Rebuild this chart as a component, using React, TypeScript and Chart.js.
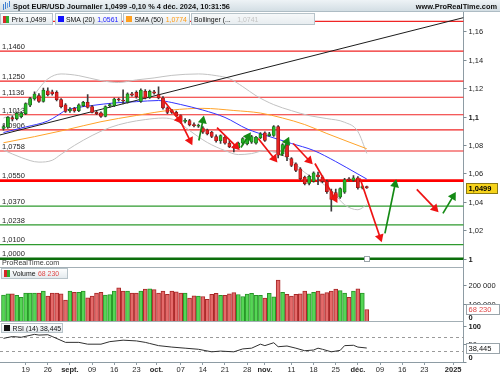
import React, { useEffect, useRef } from 'react';
import { Chart, registerables } from 'chart.js';

Chart.register(...registerables);

const FONT = "'Liberation Sans', Arial, Helvetica, sans-serif";

// ---------------- DATA ----------------
// trading-day index: 0 = 12 août 2024 ... 82 = 4 déc. 2024
const titleText = 'Spot EUR/USD Journalier 1,0499 -0,10 % 4 déc. 2024, 10:31:56';

const openP = [1.0916,1.0925,1.0993,1.0985,1.1000,1.1021,1.1080,1.1124,1.1147,1.1107,
1.1182,1.1175,1.1171,1.1119,1.1082,1.1040,1.1058,1.1042,1.1077,1.1100,
1.1070,1.1030,1.1026,1.1002,1.1075,1.1077,1.1124,1.1115,1.1102,1.1160,
1.1171,1.1107,1.1178,1.1135,1.1175,1.1154,1.1131,1.1061,1.1042,1.1030,
1.1007,1.0966,1.0972,1.0942,1.0932,1.0921,1.0907,1.0890,1.0860,1.0830,
1.0855,1.0813,1.0789,1.0780,1.0813,1.0808,1.0820,1.0813,1.0851,1.0886,
1.0866,1.0867,1.0930,1.0738,1.0800,1.0705,1.0668,1.0633,1.0574,1.0530,
1.0545,1.0590,1.0575,1.0545,1.0472,1.0465,1.0434,1.0469,1.0562,1.0551,
1.0570,1.0500,1.0508];
const highP = [1.0942,1.1000,1.1005,1.1032,1.1036,1.1097,1.1136,1.1174,1.1162,1.1201,
1.1202,1.1187,1.1181,1.1126,1.1092,1.1063,1.1066,1.1089,1.1108,1.1154,
1.1079,1.1041,1.1033,1.1076,1.1091,1.1131,1.1131,1.1189,1.1168,1.1171,
1.1181,1.1196,1.1190,1.1186,1.1185,1.1209,1.1141,1.1069,1.1051,1.1039,
1.1013,1.0986,1.0981,1.0956,1.0948,1.0929,1.0913,1.0896,1.0871,1.0872,
1.0866,1.0832,1.0796,1.0820,1.0852,1.0850,1.0868,1.0862,1.0888,1.0893,
1.0890,1.0937,1.0937,1.0810,1.0808,1.0712,1.0675,1.0641,1.0582,1.0588,
1.0612,1.0610,1.0583,1.0553,1.0490,1.0490,1.0499,1.0566,1.0572,1.0586,
1.0579,1.0515,1.0512];
const lowP = [1.0905,1.0918,1.0970,1.0976,1.0990,1.1014,1.1070,1.1115,1.1100,1.1101,
1.1145,1.1150,1.1110,1.1061,1.1030,1.1029,1.1032,1.1035,1.1069,1.1060,
1.1025,1.1014,1.0995,1.0997,1.1064,1.1070,1.1109,1.1089,1.1094,1.1144,
1.1130,1.1099,1.1124,1.1127,1.1157,1.1125,1.1052,1.1021,1.1022,1.0999,
1.0952,1.0955,1.0935,1.0928,1.0924,1.0882,1.0871,1.0852,1.0820,1.0812,
1.0806,1.0782,1.0752,1.0773,1.0801,1.0800,1.0812,1.0806,1.0845,1.0825,
1.0860,1.0860,1.0710,1.0726,1.0690,1.0648,1.0613,1.0554,1.0519,1.0520,
1.0538,1.0522,1.0535,1.0460,1.0335,1.0420,1.0425,1.0460,1.0548,1.0545,
1.0490,1.0492,1.0495];
const closeP = [1.0930,1.0995,1.0982,1.1023,1.1025,1.1091,1.1126,1.1159,1.1107,1.1187,
1.1154,1.1160,1.1119,1.1070,1.1037,1.1052,1.1040,1.1082,1.1100,1.1065,
1.1030,1.1021,1.1002,1.1070,1.1085,1.1124,1.1117,1.1110,1.1160,1.1150,
1.1140,1.1187,1.1131,1.1178,1.1165,1.1131,1.1061,1.1030,1.1030,1.1007,
1.0960,1.0972,1.0942,1.0937,1.0938,1.0890,1.0879,1.0860,1.0830,1.0867,
1.0813,1.0789,1.0780,1.0813,1.0846,1.0843,1.0860,1.0855,1.0879,1.0832,
1.0879,1.0930,1.0728,1.0803,1.0716,1.0656,1.0621,1.0563,1.0528,1.0580,
1.0605,1.0575,1.0545,1.0472,1.0418,1.0430,1.0493,1.0556,1.0556,1.0570,
1.0500,1.0508,1.0499];

const volume = [147000,153000,153000,145000,134000,158000,158000,158000,158000,168000,
141000,158000,158000,153000,119000,168000,162000,162000,169000,132000,
141000,158000,162000,147000,149000,168000,186000,168000,169000,158000,
158000,169000,179000,181000,177000,158000,169000,151000,169000,164000,
158000,158000,130000,143000,141000,139000,124000,151000,156000,145000,
145000,154000,160000,150000,139000,152000,156000,145000,145000,130000,
156000,137000,228000,162000,151000,141000,151000,153000,168000,153000,
162000,168000,153000,160000,168000,179000,171000,158000,134000,168000,
181000,158000,68230];

// [index, value]
const sma20 = [[0,1.0888],[5,1.0927],[10,1.0969],[12,1.1004],[14,1.1043],[16,1.1060],[20,1.1078],[25,1.1096],[30,1.1105],[35,1.1113],[38,1.1099],[40,1.1085],[45,1.1046],[50,1.0994],[55,1.0913],[60,1.0860],[65,1.0811],[70,1.0762],[75,1.0684],[80,1.0596],[82,1.0561]];
const sma50 = [[0,1.0816],[7,1.0859],[14,1.0906],[22,1.0964],[30,1.1008],[38,1.1046],[45,1.1058],[52,1.1043],[58,1.1025],[63,1.0990],[68,1.0944],[73,1.0881],[78,1.0821],[82,1.0774]];
const bbUpper = [[0,1.0990],[3,1.1030],[6,1.1112],[8,1.1197],[10,1.1265],[13,1.1300],[17,1.1288],[22,1.1253],[26,1.1240],[30,1.1258],[34,1.1272],[38,1.1290],[44,1.1300],[48,1.1288],[51,1.1267],[54,1.1211],[57,1.1147],[61,1.1084],[65,1.1042],[69,1.1007],[73,1.0986],[77,1.0960],[80,1.0895],[82,1.0741]];
const bbLower = [[0,1.0765],[4,1.0712],[8,1.0680],[11,1.0693],[13,1.0735],[16,1.0797],[20,1.0867],[24,1.0923],[28,1.0958],[32,1.0979],[36,1.0990],[39,1.0972],[42,1.0902],[46,1.0818],[50,1.0761],[53,1.0733],[56,1.0740],[59,1.0761],[62,1.0740],[65,1.0691],[68,1.0607],[71,1.0551],[74,1.0481],[77,1.0380],[80,1.0345],[82,1.0381]];
const trendLine = [[-0.79,1.0871],[103.84,1.1696]];

const rsi = [[0,65],[2,70],[4,68],[7,76],[8,74],[10,75],[11,70],[14,54],[17,54],[19,49],[22,49],[24,56],[27,60],[30,58],[32,54],[33,51],[35,45],[38,41],[41,38],[44,35],[47,28],[49,30],[52,28],[54,36],[56,38],[58,49],[59,45],[61,53],[62,42],[64,44],[66,38],[68,31],[70,33],[71,38],[72,35],[74,28],[76,32],[77,45],[79,46],[80,41],[82,38.445]];

const levelValues = [1.1669, 1.1460, 1.1250, 1.1136, 1.1013, 1.0906, 1.0758, 1.0550, 1.0370, 1.0238, 1.0100, 1.0000];
const levelLabels = ['', '1,1460', '1,1250', '1,1136', '1,1013', '1,0906', '1,0758', '1,0550', '1,0370', '1,0238', '1,0100', '1,0000'];
const levelKinds = ['res', 'res', 'res', 'res', 'res', 'res', 'res', 'pivot', 'sup', 'sup', 'sup', 'floor'];

// arrows: [fromIndex, fromValue, toIndex, toValue]
const arrowsDown = [
  [36.2,1.1112,39.6,1.0979],[40.1,1.0958,42.1,1.0832],[48.2,1.0923,52.5,1.0790],
  [57.5,1.0846,61.1,1.0705],[65.4,1.0811,69.0,1.0691],[70.3,1.0670,74.8,1.0425],
  [80.5,1.0565,85.0,1.0151],[93.3,1.0488,97.4,1.0354]];
const arrowsUp = [
  [44.1,1.0832,45.0,1.0972],[53.6,1.0783,55.2,1.0860],[62.6,1.0726,64.0,1.0825],
  [86.1,1.0179,88.4,1.0523],[99.2,1.0319,101.5,1.0439]];

const xMin = -0.79, xMax = 103.84;
const xTickIdx = [5, 10, 15, 20, 25, 30, 34.5, 40, 45, 50, 55, 59, 65, 70, 75, 80, 85, 90, 95, 101.5];
const xTickLabels = ['19', '26', 'sept.', '09', '16', '23', 'oct.', '07', '14', '21', '28', 'nov.', '11', '18', '25', 'déc.', '09', '16', '23', '2025'];

const priceTicks = [1, 1.02, 1.04, 1.06, 1.08, 1.1, 1.12, 1.14, 1.16];
const priceTickLabels = ['1', '1,02', '1,04', '1,06', '1,08', '1,1', '1,12', '1,14', '1,16'];
const priceRange = [0.99423, 1.17356];
const volTicks = [0, 100000, 200000];
const volTickLabels = ['0', '100 000', '200 000'];
const volRange = [0, 300000];
const rsiTicks = [0, 50, 100];
const rsiTickLabels = ['0', '50', '100'];
const rsiRange = [0, 110];
const rsiBands = [30, 70];

// ---------------- helpers ----------------
const AXIS_W = 36.5;
const fr = (v: number, d: number) => v.toFixed(d).replace('.', ',');
const grp = (v: number) => Math.round(v).toString().replace(/\B(?=(\d{3})+(?!\d))/g, ' ');
const idx = closeP.map((_, i) => i);
const isUp = (i: number) => closeP[i] >= openP[i];
const pts = (arr: number[][]) => arr.map(([x, y]) => ({ x, y }));
const last = (arr: number[][]) => arr[arr.length - 1][1];

const LEVEL_STYLE: any = {
  res: { color: '#f02525', width: 1.2 },
  pivot: { color: '#ff0000', width: 2.6 },
  sup: { color: '#2e9a2e', width: 1.2 },
  floor: { color: '#0b6e0b', width: 2.6 },
};

function yLabels(ticks: number[], labels: string[], boldFn: (v: number) => boolean) {
  return {
    id: 'yLabels',
    afterDraw(chart: any) {
      const { ctx, chartArea: ca, scales } = chart;
      const y = scales.y;
      ctx.save();
      ticks.forEach((t, k) => {
        const py = Math.round(y.getPixelForValue(t)) + 0.5;
        ctx.strokeStyle = '#7d8b93';
        ctx.lineWidth = 1;
        ctx.beginPath();
        ctx.moveTo(ca.right, py);
        ctx.lineTo(ca.right + 3, py);
        ctx.stroke();
        const ly = Math.min(Math.max(py, ca.top + 4.5), ca.bottom - 4.5);
        ctx.font = (boldFn(t) ? 'bold ' : '') + '7.5px ' + FONT;
        ctx.fillStyle = '#1a1a1a';
        ctx.textAlign = 'left';
        ctx.textBaseline = 'middle';
        ctx.fillText(labels[k], ca.right + 5, ly);
      });
      ctx.restore();
    },
  };
}

function valueBox(value: number, text: string, fill: string, stroke: string, color: string, bold: boolean, w: number) {
  return {
    id: 'valueBox',
    afterDraw(chart: any) {
      const { ctx, chartArea: ca, scales } = chart;
      const py = scales.y.getPixelForValue(value);
      const h = 10;
      const x0 = ca.right + 3;
      const top = Math.round(py - h / 2) + 0.5;
      ctx.save();
      ctx.fillStyle = fill;
      ctx.fillRect(x0, top, w, h);
      ctx.strokeStyle = stroke;
      ctx.lineWidth = 1;
      ctx.strokeRect(x0, top, w, h);
      ctx.font = (bold ? 'bold ' : '') + '7.5px ' + FONT;
      ctx.fillStyle = color;
      ctx.textAlign = 'left';
      ctx.textBaseline = 'middle';
      ctx.fillText(text, x0 + 2, top + h / 2 + 0.5);
      ctx.restore();
    },
  };
}

const levelsPlugin = {
  id: 'levels',
  beforeDatasetsDraw(chart: any) {
    const { ctx, chartArea: ca, scales } = chart;
    ctx.save();
    levelValues.forEach((v, k) => {
      const st = LEVEL_STYLE[levelKinds[k]];
      const py = scales.y.getPixelForValue(v);
      ctx.strokeStyle = st.color;
      ctx.lineWidth = st.width;
      ctx.beginPath();
      ctx.moveTo(ca.left, py);
      ctx.lineTo(ca.right, py);
      ctx.stroke();
      if (levelLabels[k]) {
        ctx.font = '7.5px ' + FONT;
        ctx.fillStyle = '#1e1e1e';
        ctx.textAlign = 'left';
        ctx.textBaseline = 'alphabetic';
        ctx.fillText(levelLabels[k], 2, py - st.width / 2 - 1.6);
      }
    });
    ctx.restore();
  },
  afterDraw(chart: any) {
    const { ctx, chartArea: ca, scales } = chart;
    const px = Math.round(scales.x.getPixelForValue(idx[idx.length - 1]));
    ctx.save();
    ctx.fillStyle = '#ffffff';
    ctx.strokeStyle = '#9aa4aa';
    ctx.lineWidth = 1;
    ctx.fillRect(px - 2.5, ca.bottom - 10.5, 5, 5);
    ctx.strokeRect(px - 2.5, ca.bottom - 10.5, 5, 5);
    ctx.restore();
  },
};

function arrowDs(a: number[], color: string) {
  return {
    type: 'line',
    data: [{ x: a[0], y: a[1] }, { x: a[2], y: a[3] }],
    borderColor: color,
    borderWidth: 1.7,
    pointRadius: [0, 5.2],
    pointHoverRadius: 0,
    pointStyle: 'triangle',
    pointBackgroundColor: color,
    pointBorderColor: color,
    pointBorderWidth: 0,
    rotation: (ctx: any) => {
      const ch = ctx.chart;
      const d = ctx.dataset.data;
      if (!ch.scales || !ch.scales.x || !ch.scales.y) return 0;
      const dx = ch.scales.x.getPixelForValue(d[1].x) - ch.scales.x.getPixelForValue(d[0].x);
      const dy = ch.scales.y.getPixelForValue(d[1].y) - ch.scales.y.getPixelForValue(d[0].y);
      return (Math.atan2(dx, -dy) * 180) / Math.PI;
    },
    order: 1,
  };
}

const baseY = (range: number[]) => ({
  position: 'right',
  min: range[0],
  max: range[1],
  ticks: { display: false },
  grid: { display: false },
  border: { display: true, color: '#8e9ca4' },
  afterFit: (s: any) => { s.width = AXIS_W; },
});

const hiddenX = { type: 'linear', min: xMin, max: xMax, display: false, offset: false };

const commonOpts = {
  animation: false,
  responsive: false,
  maintainAspectRatio: false,
  layout: { padding: 0, autoPadding: false },
  events: [],
  plugins: { legend: { display: false }, tooltip: { enabled: false }, title: { display: false } },
};

function priceConfig(): any {
  const lineDs = (arr: number[][], color: string, order: number, mono = true) => ({
    type: 'line', data: pts(arr), borderColor: color, borderWidth: 1, pointRadius: 0,
    cubicInterpolationMode: mono ? 'monotone' : 'default', order,
  });
  return {
    type: 'bar',
    data: {
      datasets: [
        lineDs(bbUpper, '#c2c2c2', 20),
        lineDs(bbLower, '#c2c2c2', 20),
        lineDs(sma50, '#ffa32a', 18),
        lineDs(sma20, '#3434ff', 17),
        lineDs(trendLine, '#1c1c1c', 16, false),
        {
          type: 'bar', data: idx.map((i) => ({ x: i, y: [lowP[i], highP[i]] })),
          backgroundColor: '#3c3c3c', barThickness: 1, grouped: false, order: 10,
        },
        {
          type: 'bar', data: idx.map((i) => ({ x: i, y: [openP[i], closeP[i]] })),
          backgroundColor: idx.map((i) => (isUp(i) ? '#26b526' : '#e52323')),
          borderColor: idx.map((i) => (isUp(i) ? '#176417' : '#8c1515')),
          borderWidth: 0.7, borderSkipped: false, barThickness: 3.2, minBarLength: 1, grouped: false, order: 9,
        },
        ...arrowsDown.map((a) => arrowDs(a, '#ee1313')),
        ...arrowsUp.map((a) => arrowDs(a, '#148a14')),
      ],
    },
    options: { ...commonOpts, scales: { x: hiddenX, y: baseY(priceRange) } },
    plugins: [
      levelsPlugin,
      yLabels(priceTicks, priceTickLabels, (v) => Math.abs(v * 10 - Math.round(v * 10)) < 1e-6),
      valueBox(closeP[closeP.length - 1], fr(closeP[closeP.length - 1], 4), '#f6d31a', '#8c7a12', '#000', true, 31),
    ],
  };
}

function volumeConfig(): any {
  return {
    type: 'bar',
    data: {
      datasets: [{
        data: idx.map((i) => ({ x: i, y: volume[i] })),
        backgroundColor: idx.map((i) => (isUp(i) ? '#55d655' : '#e46a6a')),
        borderColor: idx.map((i) => (isUp(i) ? '#279427' : '#a82828')),
        borderWidth: 1, barThickness: 4, grouped: false,
      }],
    },
    options: { ...commonOpts, scales: { x: hiddenX, y: baseY(volRange) } },
    plugins: [
      {
        id: 'sep',
        afterDraw(chart: any) {
          const { ctx, chartArea: ca } = chart;
          ctx.save();
          ctx.strokeStyle = '#a3afb5';
          ctx.lineWidth = 1;
          ctx.beginPath();
          ctx.moveTo(0, ca.top + 0.5); ctx.lineTo(ca.right, ca.top + 0.5);
          ctx.moveTo(0, ca.bottom - 0.5); ctx.lineTo(ca.right, ca.bottom - 0.5);
          ctx.stroke();
          ctx.restore();
        },
      },
      yLabels(volTicks, volTickLabels, (v) => v === 0),
      valueBox(volume[volume.length - 1], grp(volume[volume.length - 1]), '#ffffff', '#9aa4aa', '#e04a4a', false, 33),
    ],
  };
}

function rsiConfig(): any {
  return {
    type: 'line',
    data: {
      datasets: [{
        data: pts(rsi), borderColor: '#303030', borderWidth: 1, pointRadius: 0, tension: 0,
      }],
    },
    options: {
      ...commonOpts,
      scales: {
        x: {
          type: 'linear', min: xMin, max: xMax, offset: false, position: 'bottom',
          afterBuildTicks: (s: any) => { s.ticks = xTickIdx.map((v) => ({ value: v })); },
          afterFit: (s: any) => { s.height = 13; },
          ticks: {
            autoSkip: false, maxRotation: 0, minRotation: 0, padding: 0.5, color: '#2a2a2a',
            callback: (_v: any, i: number) => xTickLabels[i],
            font: (ctx: any) => {
              const lbl = xTickLabels[ctx.index] || '';
              const bold = /[a-zé]/.test(lbl) || lbl.length === 4;
              return { family: FONT, size: 7.5, weight: bold ? 'bold' : 'normal' };
            },
          },
          grid: { display: true, drawOnChartArea: false, drawTicks: true, tickLength: 3, color: '#8e9ca4' },
          border: { display: true, color: '#8e9ca4' },
        },
        y: baseY(rsiRange),
      },
    },
    plugins: [
      {
        id: 'rsiBands',
        beforeDatasetsDraw(chart: any) {
          const { ctx, chartArea: ca, scales } = chart;
          ctx.save();
          ctx.strokeStyle = '#9a9a9a';
          ctx.lineWidth = 1;
          ctx.setLineDash([3, 3]);
          rsiBands.forEach((b) => {
            const py = Math.round(scales.y.getPixelForValue(b)) + 0.5;
            ctx.beginPath(); ctx.moveTo(ca.left, py); ctx.lineTo(ca.right, py); ctx.stroke();
          });
          ctx.restore();
        },
      },
      yLabels(rsiTicks, rsiTickLabels, (v) => v === 0 || v === 100),
      valueBox(last(rsi), fr(last(rsi), 3), '#ffffff', '#9aa4aa', '#111', false, 33),
    ],
  };
}

// ---------------- UI ----------------
const boxStyle = (left: number, top: number, width: number, height: number): any => ({
  position: 'absolute', left, top, width, height, boxSizing: 'border-box',
  border: '1px solid #b7c3c9', background: 'linear-gradient(#fdfefe,#e4eaee)',
  display: 'flex', alignItems: 'center', gap: 2.5, paddingLeft: 2,
  font: `6.9px ${FONT}`, color: '#111', whiteSpace: 'nowrap', overflow: 'hidden',
});
const splitIcon: any = { display: 'inline-block', width: 6, height: 7, background: 'linear-gradient(90deg,#d62a2a 50%,#2fae2f 50%)', flex: 'none' };
const sq = (c: string): any => ({ display: 'inline-block', width: 6, height: 6, background: c, flex: 'none' });

export default function App() {
  const pRef = useRef<HTMLCanvasElement>(null);
  const vRef = useRef<HTMLCanvasElement>(null);
  const rRef = useRef<HTMLCanvasElement>(null);

  useEffect(() => {
    Chart.defaults.font.family = FONT;
    const charts = [
      new Chart(pRef.current as any, priceConfig()),
      new Chart(vRef.current as any, volumeConfig()),
      new Chart(rRef.current as any, rsiConfig()),
    ];
    return () => charts.forEach((c) => c.destroy());
  }, []);

  const cv = (top: number, h: number): any => ({ position: 'absolute', left: 0, top, width: 500, height: h, display: 'block' });

  return (
    <div style={{ position: 'fixed', left: 0, top: 0, width: 500, height: 375, background: '#ffffff', overflow: 'hidden', fontFamily: FONT }}>
      <canvas ref={pRef} width={500} height={255} style={cv(12, 255)} />
      <canvas ref={vRef} width={500} height={55} style={cv(267, 55)} />
      <canvas ref={rRef} width={500} height={53} style={cv(322, 53)} />

      {/* title bar */}
      <div style={{ position: 'absolute', left: 0, top: 0, width: 500, height: 12, boxSizing: 'border-box', background: 'linear-gradient(#eef3f6,#d3dee4)', borderBottom: '1px solid #aebcc4', font: `bold 7.4px ${FONT}`, lineHeight: '11px', color: '#111', whiteSpace: 'nowrap' }}>
        <span style={{ position: 'absolute', left: 3, top: 4, width: 1, height: 6, background: '#3f7fd2' }} />
        <span style={{ position: 'absolute', left: 5, top: 2, width: 1, height: 7, background: '#3f7fd2' }} />
        <span style={{ position: 'absolute', left: 7, top: 3, width: 1, height: 5, background: '#6aa0e0' }} />
        <span style={{ position: 'absolute', left: 9, top: 1, width: 1, height: 6, background: '#3f7fd2' }} />
        <span style={{ position: 'absolute', left: 13, top: 0.5 }}>{titleText}</span>
        <span style={{ position: 'absolute', right: 3, top: 0.5 }}>www.ProRealTime.com</span>
      </div>

      {/* price legends */}
      <div style={boxStyle(0, 13, 53, 12)}>
        <span style={splitIcon} />
        <span>Prix {fr(closeP[closeP.length - 1], 4)}</span>
      </div>
      <div style={boxStyle(54.5, 13, 67.5, 12)}>
        <span style={sq('#1010ff')} />
        <span>SMA (20)</span>
        <span style={{ color: '#2323ff' }}>{fr(last(sma20), 4)}</span>
      </div>
      <div style={boxStyle(123, 13, 67, 12)}>
        <span style={sq('#ffa020')} />
        <span>SMA (50)</span>
        <span style={{ color: '#ff9a10' }}>{fr(last(sma50), 4)}</span>
      </div>
      <div style={{ ...boxStyle(191, 13, 124, 12), background: 'linear-gradient(#f6f8f9,#e8edf0)' }}>
        <span>Bollinger (...</span>
        <span style={{ color: '#c4c4c4', marginLeft: 4 }}>{fr(last(bbUpper), 4)}</span>
      </div>

      <div style={{ position: 'absolute', left: 2, top: 258, font: `7.2px ${FONT}`, color: '#3a3a3a', lineHeight: '9px' }}>ProRealTime.com</div>

      {/* volume legend */}
      <div style={boxStyle(1, 268, 67, 11)}>
        <span style={splitIcon} />
        <span>Volume</span>
        <span style={{ color: '#e04a4a' }}>{grp(volume[volume.length - 1])}</span>
      </div>

      {/* RSI legend */}
      <div style={boxStyle(1, 323, 62, 10)}>
        <span style={sq('#111')} />
        <span>RSI (14) {fr(last(rsi), 3)}</span>
      </div>
    </div>
  );
}
